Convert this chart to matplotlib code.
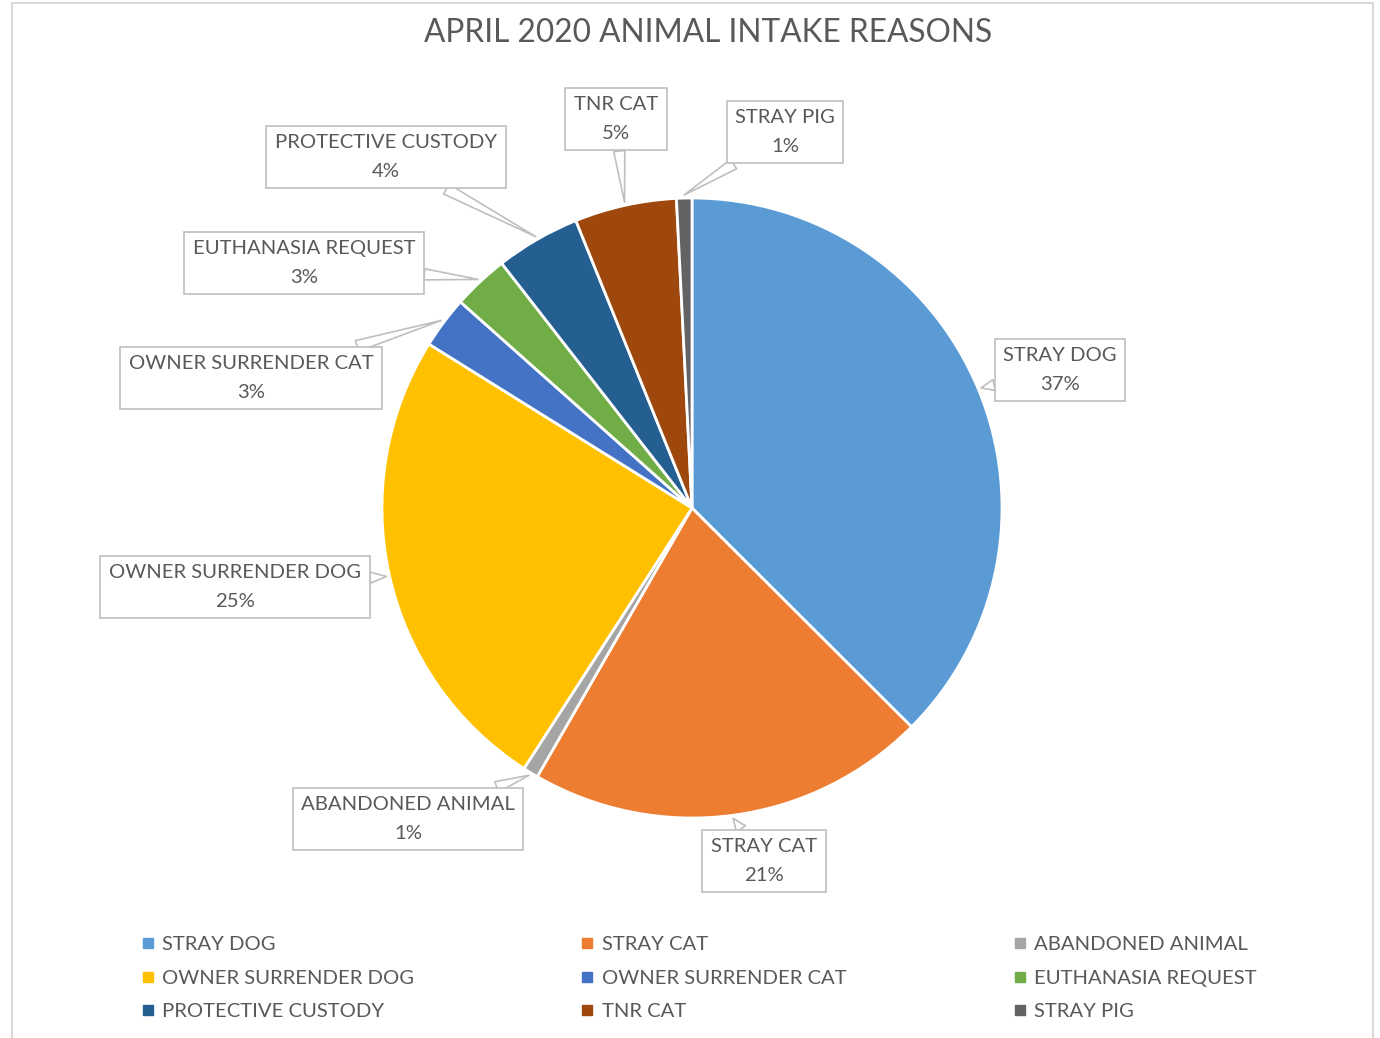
import numpy as np
import matplotlib.pyplot as plt
from matplotlib.patches import Rectangle
from matplotlib.lines import Line2D

plt.rcParams['font.family'] = ['Lato', 'DejaVu Sans']

categories = ['STRAY DOG', 'STRAY CAT', 'ABANDONED ANIMAL', 'OWNER SURRENDER DOG',
              'OWNER SURRENDER CAT', 'EUTHANASIA REQUEST', 'PROTECTIVE CUSTODY',
              'TNR CAT', 'STRAY PIG']
shares = [37.4, 20.8, 0.8, 24.7, 2.7, 2.9, 4.4, 5.3, 0.8]
colors = ['#5B9BD5', '#ED7D31', '#A5A5A5', '#FFC000', '#4472C4', '#70AD47',
          '#255E91', '#9E480E', '#636363']

# callout box centres, pixels from the top-left corner
label_pos = [(1060, 370), (764, 861), (408, 819), (235, 587), (251, 378),
             (304, 263), (386, 157), (616, 119), (785, 132)]

W, H = 1380, 1038
text_col = '#595959'

fig = plt.figure(figsize=(W / 100, H / 100), dpi=100)
ax = fig.add_axes([0, 0, 1, 1])

# chart area border
fig.patches.append(Rectangle((12 / W, -0.05), (1373 - 12) / W, 1.05 - 3 / H,
                             transform=fig.transFigure, fill=False,
                             ec='#D9D9D9', lw=1.5))

cx, cy, r = 692, H - 508, 310
wedges, _ = ax.pie(shares, colors=colors, startangle=90, counterclock=False,
                   center=(cx, cy), radius=r, frame=True,
                   wedgeprops=dict(edgecolor='white', linewidth=2))
ax.set_xlim(0, W)
ax.set_ylim(0, H)
ax.axis('off')

total = sum(shares)
for w, name, v, (lx, ly) in zip(wedges, categories, shares, label_pos):
    mid = np.deg2rad((w.theta1 + w.theta2) / 2)
    tip = (cx + r * 1.01 * np.cos(mid), cy + r * 1.01 * np.sin(mid))
    ax.annotate(f'{name}\n{v / total * 100:.0f}%', xy=tip, xytext=(lx, H - ly),
                ha='center', va='center', fontsize=14.6, color=text_col,
                linespacing=1.85,
                bbox=dict(boxstyle='square,pad=0.42', fc='white', ec='#BFBFBF', lw=1.2),
                arrowprops=dict(arrowstyle='wedge,tail_width=0.55,shrink_factor=0.5',
                                fc='white', ec='#BFBFBF', lw=1.2,
                                shrinkA=0, shrinkB=0))

ax.text(708, H - 33, 'APRIL 2020 ANIMAL INTAKE REASONS', ha='center', va='center',
        fontsize=22.8, color=text_col)

handles = [Line2D([], [], marker='s', ls='none', color=c, markersize=6.5) for c in colors]
order = [0, 3, 6, 1, 4, 7, 2, 5, 8]
fig.legend([handles[i] for i in order], [categories[i] for i in order],
           loc='center', bbox_to_anchor=(699 / W, 1 - 978 / H), ncol=3,
           frameon=False, fontsize=14.6, labelcolor=text_col,
           handlelength=0.6, handletextpad=0.4, columnspacing=8.25,
           labelspacing=0.8)

fig.savefig('out.png', dpi=100)
